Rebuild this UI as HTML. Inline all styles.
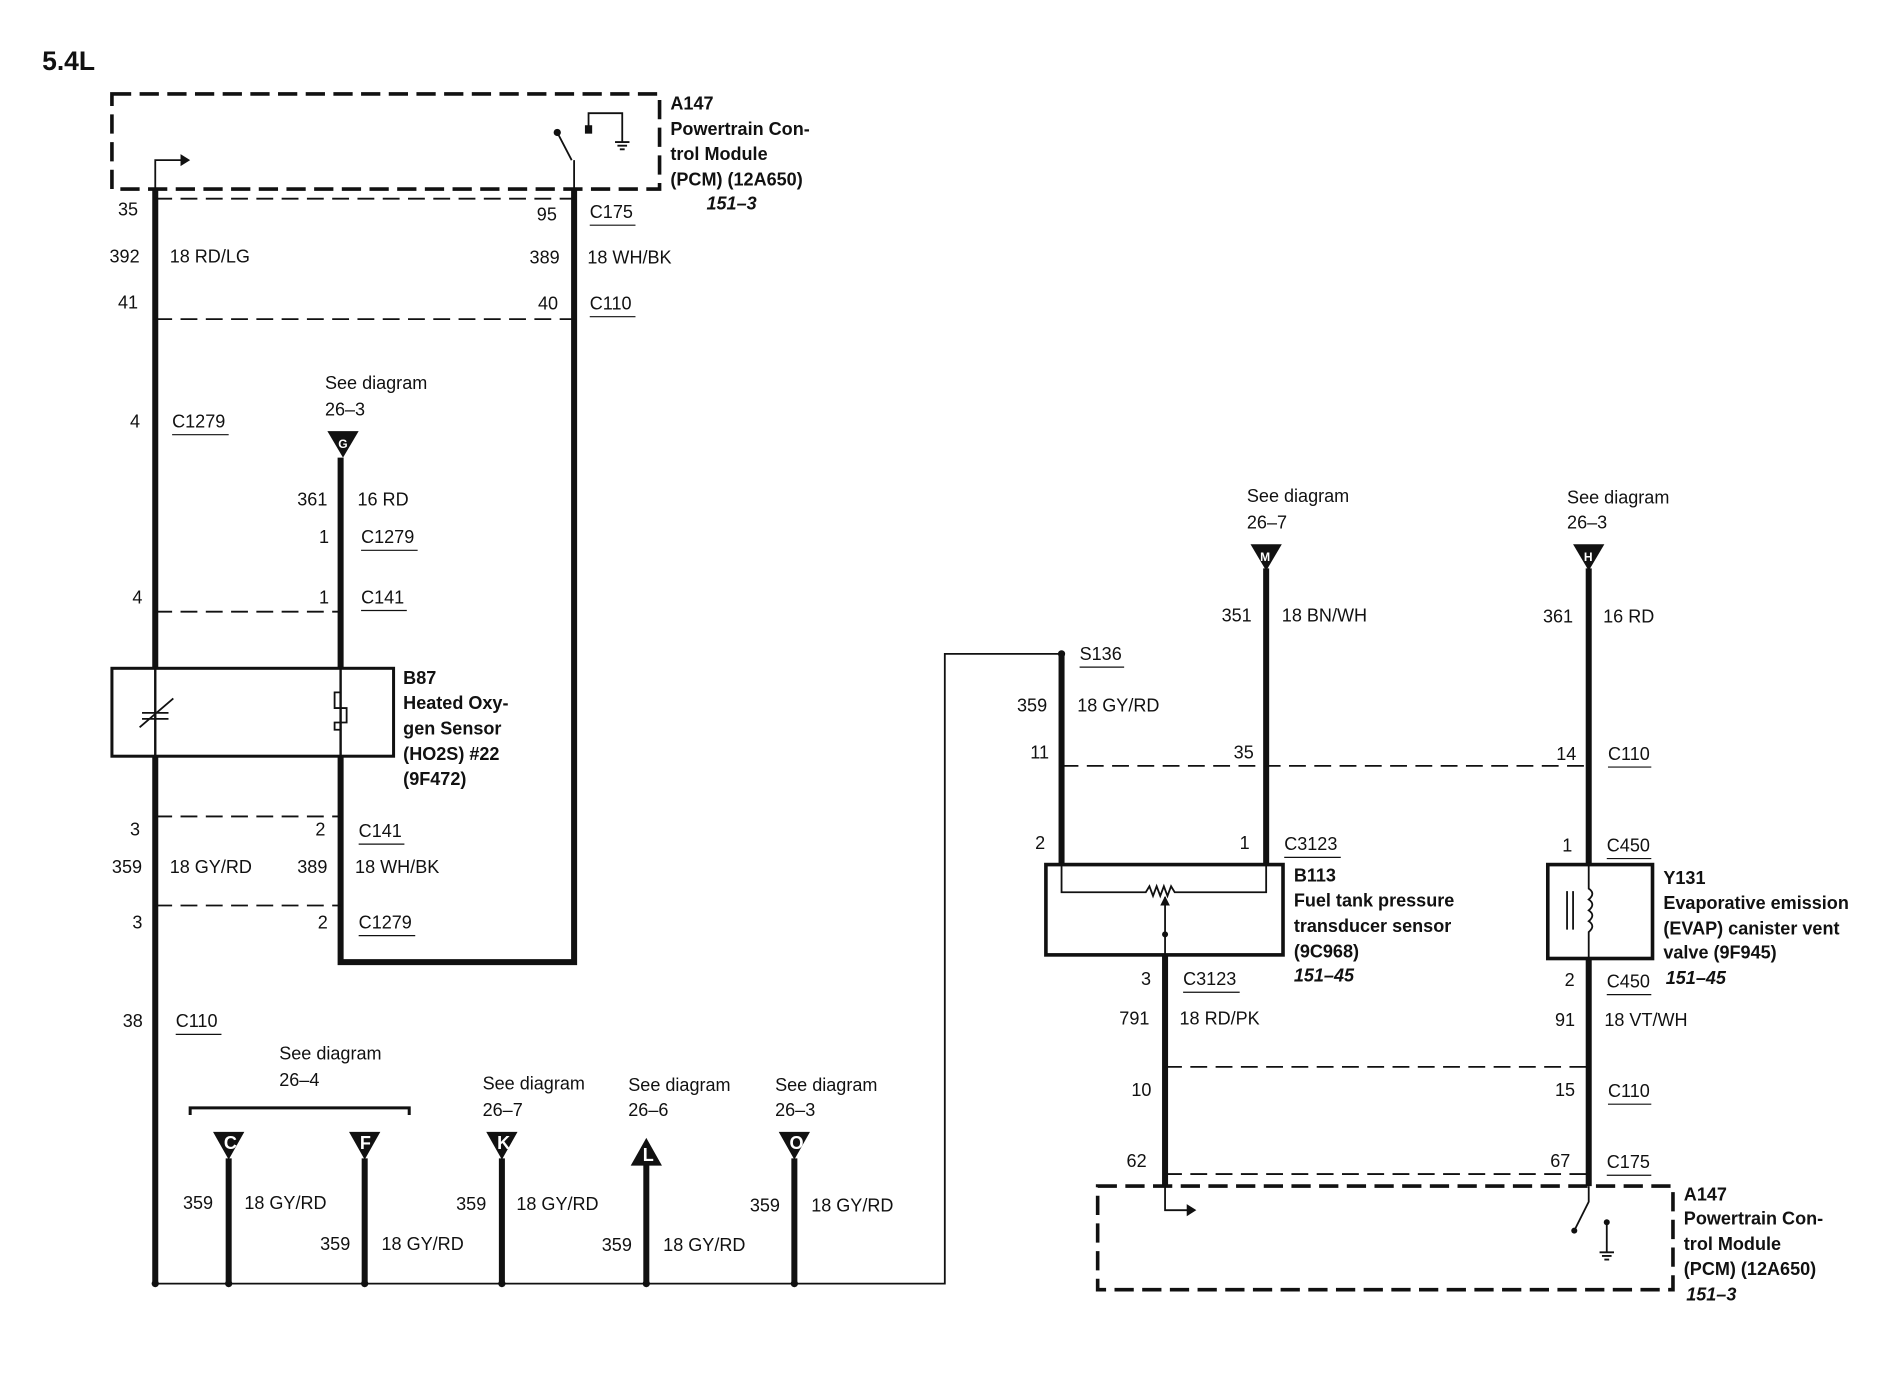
<!DOCTYPE html>
<html><head><meta charset="utf-8"><style>
html,body{margin:0;padding:0;background:#fff;}
svg{display:block;}
text{font-family:"Liberation Sans",Arial,sans-serif;font-size:15px;fill:#111;}
.b{font-weight:bold;}
.i{font-weight:bold;font-style:italic;}
.w{stroke:#111;stroke-width:5;fill:none;}
.t{stroke:#111;stroke-width:1.5;fill:none;}
.d{stroke:#111;stroke-width:1.5;fill:none;stroke-dasharray:14,7;}
.dd{stroke:#111;stroke-width:3;fill:none;stroke-dasharray:16,7;}
.u{stroke:#111;stroke-width:1;}
</style></head><body>
<svg width="1886" height="1392" viewBox="0 0 1567 1156" preserveAspectRatio="none" xmlns="http://www.w3.org/2000/svg">
<text x="35" y="58" class="b" style="font-size:22px">5.4L</text>

<!-- Top PCM -->
<path class="dd" d="M93 78 H548 V157 H93 Z"/>
<text x="557" y="91" class="b">A147</text>
<text x="557" y="112" class="b">Powertrain Con-</text>
<text x="557" y="133" class="b">trol Module</text>
<text x="557" y="154" class="b">(PCM) (12A650)</text>
<text x="587" y="174" class="i">151–3</text>
<path class="t" d="M129 157 V133 H152"/><path d="M150 128 L158 133 L150 138 Z" fill="#111"/>
<circle cx="463" cy="110" r="3" fill="#111"/><path class="t" d="M463 110 L475 133 M477 133 V157"/>
<path class="t" d="M489 110 V94 H517 V118 M511 118 H523 M513 121 H521 M515 124 H519"/><rect x="486" y="104" width="6" height="7" fill="#111"/>

<!-- Left main wires -->
<path class="w" d="M129 157 V1066"/>
<path class="w" d="M477 157 V799 H283 V380"/>
<path class="d" d="M129 165 H477 M129 265 H477 M129 508 H283 M129 678 H283 M129 752 H283"/>
<text x="98" y="179">35</text><text x="91" y="218">392</text><text x="141" y="218">18 RD/LG</text><text x="98" y="256">41</text>
<text x="446" y="183">95</text><text x="440" y="219">389</text><text x="488" y="219">18 WH/BK</text><text x="447" y="257">40</text>
<text x="490" y="181">C175</text><line class="u" x1="490" y1="187" x2="528" y2="187"/>
<text x="490" y="257">C110</text><line class="u" x1="490" y1="263" x2="528" y2="263"/>
<text x="108" y="355">4</text><text x="143" y="355">C1279</text><line class="u" x1="143" y1="361" x2="190" y2="361"/>
<text x="270" y="323">See diagram</text><text x="270" y="345">26–3</text>
<path d="M272 358 H298 L285 380 Z" fill="#111"/><text x="281" y="372" style="font-size:10px;fill:#fff" class="b">G</text>
<text x="247" y="420">361</text><text x="297" y="420">16 RD</text>
<text x="265" y="451">1</text><text x="300" y="451">C1279</text><line class="u" x1="300" y1="457" x2="347" y2="457"/>
<text x="110" y="501">4</text><text x="265" y="501">1</text><text x="300" y="501">C141</text><line class="u" x1="300" y1="507" x2="338" y2="507"/>
<!-- B87 -->
<rect x="93" y="555" width="234" height="73" fill="#fff" stroke="#111" stroke-width="2.5"/>
<path class="w" d="M129 555 V628 M283 555 V628" style="stroke-width:2"/>
<path class="t" d="M116 604 L144 580 M118 592 H140 M118 597 H140"/>
<path class="t" d="M283 575 H278 V588 H288 V600 H278 V606 H283"/>
<text x="335" y="568" class="b">B87</text><text x="335" y="589" class="b">Heated Oxy-</text><text x="335" y="610" class="b">gen Sensor</text><text x="335" y="631" class="b">(HO2S) #22</text><text x="335" y="652" class="b">(9F472)</text>
<text x="108" y="694">3</text><text x="262" y="694">2</text><text x="298" y="695">C141</text><line class="u" x1="298" y1="701" x2="336" y2="701"/>
<text x="93" y="725">359</text><text x="141" y="725">18 GY/RD</text><text x="247" y="725">389</text><text x="295" y="725">18 WH/BK</text>
<text x="110" y="771">3</text><text x="264" y="771">2</text><text x="298" y="771">C1279</text><line class="u" x1="298" y1="777" x2="345" y2="777"/>
<text x="102" y="853">38</text><text x="146" y="853">C110</text><line class="u" x1="146" y1="859" x2="184" y2="859"/>

<!-- bottom bus -->
<path class="t" d="M129 1066 H785 V543 H882"/>
<g fill="#111"><circle cx="129" cy="1066" r="3"/><circle cx="190" cy="1066" r="3"/><circle cx="303" cy="1066" r="3"/><circle cx="417" cy="1066" r="3"/><circle cx="537" cy="1066" r="3"/><circle cx="660" cy="1066" r="3"/><circle cx="882" cy="543" r="3"/></g>
<text x="232" y="880">See diagram</text><text x="232" y="902">26–4</text>
<path class="t" d="M158 926 V920 H340 V926" style="stroke-width:2.5"/>
<path class="w" d="M190 962 V1066 M303 962 V1066 M417 962 V1066 M537 966 V1066 M660 962 V1066"/>
<path d="M177 940 H203 L190 963 Z M290 940 H316 L303 963 Z M404 940 H430 L417 963 Z M647 940 H673 L660 963 Z M524 968 H550 L537 945 Z" fill="#111"/>
<g style="font-size:10px;fill:#fff" class="b"><text x="186" y="954" style="fill:#fff">C</text><text x="299" y="954" style="fill:#fff">F</text><text x="413" y="954" style="fill:#fff">K</text><text x="534" y="964" style="fill:#fff">L</text><text x="656" y="954" style="fill:#fff">O</text></g>
<text x="152" y="1004">359</text><text x="203" y="1004">18 GY/RD</text>
<text x="266" y="1038">359</text><text x="317" y="1038">18 GY/RD</text>
<text x="379" y="1005">359</text><text x="429" y="1005">18 GY/RD</text>
<text x="500" y="1039">359</text><text x="551" y="1039">18 GY/RD</text>
<text x="623" y="1006">359</text><text x="674" y="1006">18 GY/RD</text>
<text x="401" y="905">See diagram</text><text x="401" y="927">26–7</text>
<text x="522" y="906">See diagram</text><text x="522" y="927">26–6</text>
<text x="644" y="906">See diagram</text><text x="644" y="927">26–3</text>

<!-- Right part -->
<text x="897" y="548">S136</text><line class="u" x1="897" y1="554" x2="934" y2="554"/>
<path class="w" d="M882 543 V720 M1052 472 V720 M1320 472 V720 M968 793 V985 M1320 796 V985"/>
<path class="d" d="M882 636 H1320 M968 886 H1320 M968 975 H1320"/>
<text x="845" y="591">359</text><text x="895" y="591">18 GY/RD</text>
<text x="856" y="630">11</text><text x="1025" y="630">35</text><text x="1293" y="631">14</text>
<text x="1336" y="631">C110</text><line class="u" x1="1336" y1="637" x2="1372" y2="637"/>
<text x="1036" y="417">See diagram</text><text x="1036" y="439">26–7</text>
<path d="M1039 452 H1065 L1052 474 Z" fill="#111"/><text x="1047" y="466" style="font-size:10px;fill:#fff" class="b">M</text>
<text x="1015" y="516">351</text><text x="1065" y="516">18 BN/WH</text>
<text x="1302" y="418">See diagram</text><text x="1302" y="439">26–3</text>
<path d="M1307 452 H1333 L1320 474 Z" fill="#111"/><text x="1316" y="466" style="font-size:10px;fill:#fff" class="b">H</text>
<text x="1282" y="517">361</text><text x="1332" y="517">16 RD</text>
<text x="860" y="705">2</text><text x="1030" y="705">1</text>
<text x="1067" y="706">C3123</text><line class="u" x1="1067" y1="712" x2="1114" y2="712"/>
<!-- B113 -->
<rect x="869" y="718" width="197" height="75" fill="#fff" stroke="#111" stroke-width="3"/>
<path class="t" d="M882 718 V741 H952 L955 736 L958 744 L961 736 L964 744 L967 736 L970 744 L973 736 L976 741 H1052 V718"/>
<path class="t" d="M968 745 V793"/><path d="M964 752 L968 744 L972 752 Z" fill="#111"/><circle cx="968" cy="776" r="2.5" fill="#111"/>
<text x="1075" y="732" class="b">B113</text><text x="1075" y="753" class="b">Fuel tank pressure</text><text x="1075" y="774" class="b">transducer sensor</text><text x="1075" y="795" class="b">(9C968)</text><text x="1075" y="815" class="i">151–45</text>
<text x="948" y="818">3</text><text x="983" y="818">C3123</text><line class="u" x1="983" y1="824" x2="1030" y2="824"/>
<text x="930" y="851">791</text><text x="980" y="851">18 RD/PK</text>
<text x="940" y="910">10</text><text x="1292" y="910">15</text><text x="1336" y="911">C110</text><line class="u" x1="1336" y1="917" x2="1372" y2="917"/>
<text x="936" y="969">62</text><text x="1288" y="969">67</text><text x="1335" y="970">C175</text><line class="u" x1="1335" y1="976" x2="1372" y2="976"/>
<!-- Y131 -->
<rect x="1286" y="718" width="87" height="78" fill="#fff" stroke="#111" stroke-width="3"/>
<path class="t" d="M1320 718 V738 Q1326 742 1320 747 Q1326 751 1320 756 Q1326 760 1320 765 Q1326 769 1320 774 V796"/>
<path class="t" d="M1302 740 V772 M1307 740 V772"/>
<text x="1298" y="707">1</text><text x="1335" y="707">C450</text><line class="u" x1="1335" y1="713" x2="1372" y2="713"/>
<text x="1382" y="734" class="b">Y131</text><text x="1382" y="755" class="b">Evaporative emission</text><text x="1382" y="776" class="b">(EVAP) canister vent</text><text x="1382" y="796" class="b">valve (9F945)</text>
<text x="1300" y="819">2</text><text x="1335" y="820">C450</text><line class="u" x1="1335" y1="826" x2="1372" y2="826"/><text x="1384" y="817" class="i">151–45</text>
<text x="1292" y="852">91</text><text x="1333" y="852">18 VT/WH</text>
<!-- Bottom PCM -->
<path class="dd" d="M912 985 H1390 V1071 H912 Z"/>
<path class="t" d="M968 985 V1005 H988"/><path d="M986 1000 L994 1005 L986 1010 Z" fill="#111"/>
<path class="t" d="M1320 985 V998 L1308 1022"/><circle cx="1308" cy="1022" r="2.5" fill="#111"/>
<path class="t" d="M1335 1015 V1040 M1329 1040 H1341 M1331 1043 H1339 M1333 1046 H1337"/><circle cx="1335" cy="1015" r="2.5" fill="#111"/>
<text x="1399" y="997" class="b">A147</text><text x="1399" y="1017" class="b">Powertrain Con-</text><text x="1399" y="1038" class="b">trol Module</text><text x="1399" y="1059" class="b">(PCM) (12A650)</text><text x="1401" y="1080" class="i">151–3</text>
</svg>
</body></html>
